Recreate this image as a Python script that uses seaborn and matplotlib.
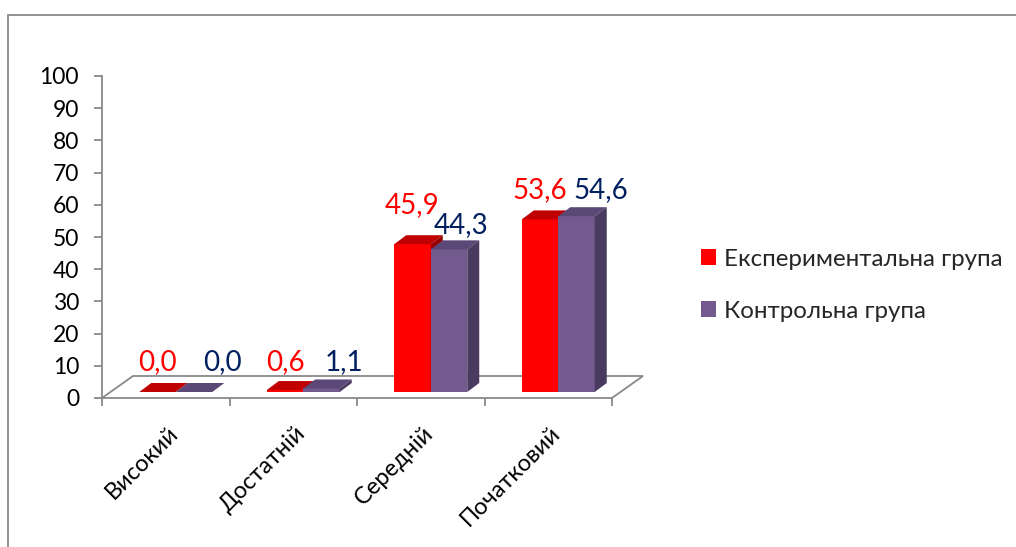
import numpy as np
import pandas as pd
import matplotlib
matplotlib.use("Agg")
import matplotlib.pyplot as plt
from matplotlib.patches import Polygon, Rectangle, Patch
import seaborn as sns

# ---- data ----
levels = ["Високий", "Достатній", "Середній", "Початковий"]
series_names = ["Експериментальна група", "Контрольна група"]
experimental = [0.0, 0.6, 45.9, 53.6]
control = [0.0, 1.1, 44.3, 54.6]
y_ticks = list(range(0, 101, 10))

# ---- styling ----
W, H = 1016, 547
front_colors = ["#FF0000", "#725A8F"]
top_colors = ["#C00000", "#5B4876"]
side_colors = ["#9A0000", "#4A3A60"]
label_colors = ["#FF0000", "#002060"]
grey = "#898989"

sns.set_theme(style="white")
plt.rcParams["font.family"] = ["Lato", "DejaVu Sans"]

fig = plt.figure(figsize=(W / 100, H / 100), dpi=100)
ax = fig.add_axes([102 / W, (H - 398) / H, 510 / W, 322 / H])

df = pd.DataFrame({
    "level": levels * 2,
    "group": [series_names[0]] * len(levels) + [series_names[1]] * len(levels),
    "value": experimental + control,
})

sns.barplot(data=df, x="level", y="value", hue="group", order=levels,
            hue_order=series_names, palette=front_colors, width=0.5725,
            gap=0, saturation=1, errorbar=None, legend=False, linewidth=0,
            ax=ax)

ax.set_xlim(-0.5, 3.5)
ax.set_ylim(0, 100)

# pixel -> data unit conversions for the pseudo-3D depth
px_x = 127.5   # pixels per category
px_y = 3.22    # pixels per value unit
floor_dx, floor_dy = 31 / px_x, 22 / px_y
bar_dx, bar_dy = 10 / px_x, 6 / px_y        # bars sit slightly inside the floor
depth_dx, depth_dy = 12 / px_x, 9 / px_y    # depth of each bar

bars = list(ax.patches)

# floor
floor = Polygon([(-0.5, 0), (3.5, 0), (3.5 + floor_dx, floor_dy),
                 (-0.5 + floor_dx, floor_dy)], closed=True, facecolor="white",
                edgecolor=grey, linewidth=1.3, clip_on=False, zorder=1)
ax.add_patch(floor)

# value label offsets (pixels) relative to the top of each bar's front face
label_dx = [[0, 0, 0, 0], [28, 23, 12, 24]]
label_dy = [[22, 20, 31, 21], [22, 18, 16, 18]]

for p in bars:
    fc = p.get_facecolor()
    s = 0 if fc[0] > 0.9 and fc[1] < 0.1 else 1
    w = p.get_width()
    h = p.get_height()
    i = int(round(p.get_x() + w / 2))
    x0 = p.get_x() + bar_dx
    y0 = bar_dy
    p.set_x(x0)
    p.set_y(y0)
    p.set_clip_on(False)
    p.set_zorder(3 + s)
    topf = Polygon([(x0, y0 + h), (x0 + w, y0 + h),
                    (x0 + w + depth_dx, y0 + h + depth_dy),
                    (x0 + depth_dx, y0 + h + depth_dy)], closed=True,
                   facecolor=top_colors[s], edgecolor="none", clip_on=False,
                   zorder=3 + s)
    sidef = Polygon([(x0 + w, y0), (x0 + w, y0 + h),
                     (x0 + w + depth_dx, y0 + h + depth_dy),
                     (x0 + w + depth_dx, y0 + depth_dy)], closed=True,
                    facecolor=side_colors[s], edgecolor="none", clip_on=False,
                    zorder=3 + s)
    ax.add_patch(topf)
    ax.add_patch(sidef)

    val = (experimental if s == 0 else control)[i]
    txt = f"{val:.1f}".replace(".", ",")
    ax.annotate(txt, xy=(x0 + w / 2, y0 + h),
                xytext=(label_dx[s][i], label_dy[s][i]),
                textcoords="offset pixels", ha="center", va="baseline",
                fontsize=20, color=label_colors[s], zorder=6,
                annotation_clip=False)

# axes styling
for side in ["top", "right", "bottom"]:
    ax.spines[side].set_visible(False)
ax.spines["left"].set_color(grey)
ax.spines["left"].set_linewidth(1.3)
ax.set_yticks(y_ticks)
ax.set_yticklabels([str(t) for t in y_ticks])
ax.set_xticks([-0.5, 0.5, 1.5, 2.5, 3.5])
ax.set_xticklabels([])
ax.tick_params(axis="y", direction="out", length=5.5, width=1.3, color=grey,
               pad=11, labelsize=16.5, labelcolor="black", left=True)
ax.tick_params(axis="x", direction="out", length=5.5, width=1.3, color=grey,
               bottom=True)
ax.set_xlabel("")
ax.set_ylabel("")
ax.patch.set_alpha(0)

for i, lab in enumerate(levels):
    ax.annotate(lab, xy=(i, 0), xytext=(9, -32), textcoords="offset pixels",
                rotation=45, rotation_mode="anchor", ha="right", va="center",
                fontsize=17, color="black", annotation_clip=False)

handles = [Patch(facecolor=c, edgecolor="none") for c in front_colors]
fig.legend(handles, series_names, loc="upper left",
           bbox_to_anchor=(691 / W, 1 - 239 / H), frameon=False, fontsize=17.4,
           handlelength=0.62, handleheight=0.62, handletextpad=0.35,
           labelspacing=1.28, borderaxespad=0)

# outer frame
fig.add_artist(Rectangle((8 / W, -0.05), 1.2, (H - 15) / H + 0.05,
                         transform=fig.transFigure, fill=False,
                         edgecolor=grey, linewidth=1.3))

fig.savefig("out.png", dpi=100)
